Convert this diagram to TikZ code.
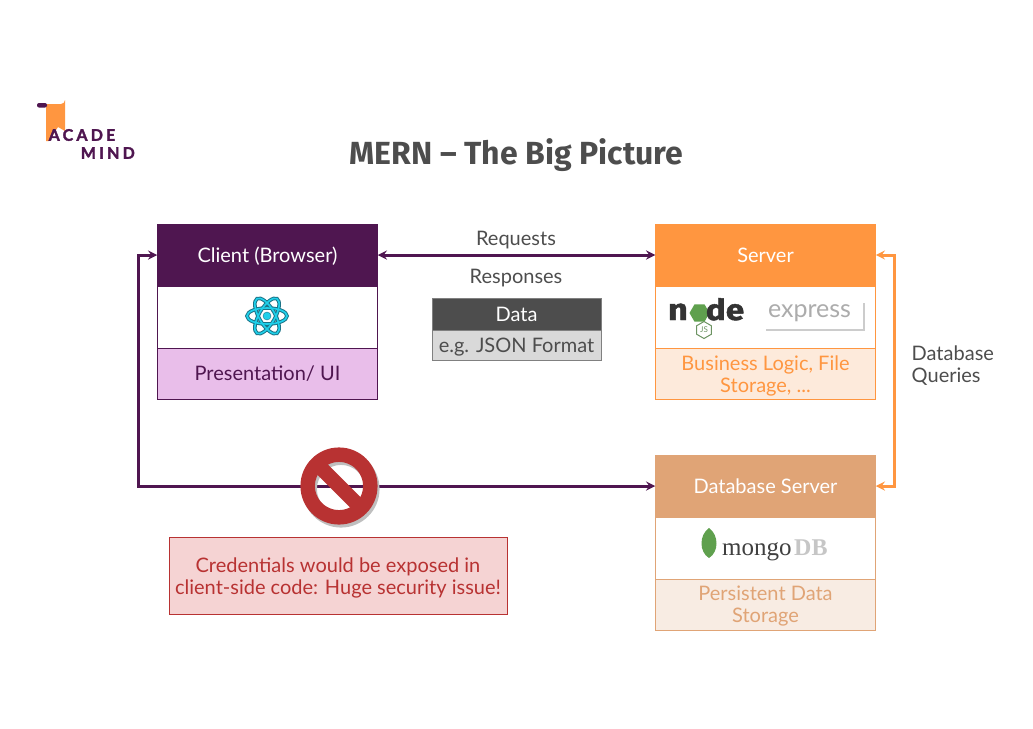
\documentclass[tikz,border=0pt]{standalone}
\usepackage{fontspec}
\usepackage{tikz}
\usetikzlibrary{positioning,shapes.geometric}
\setmainfont{Lato}
\newfontfamily\titlefont{Fira Sans}
\newfontfamily\logofont[LetterSpace=20,BoldFeatures={FakeBold=2}]{Lato}
\newfontfamily\nodefont[BoldFeatures={FakeBold=1.5,FakeStretch=1.15}]{Fira Sans}
\newfontfamily\mongofont{Liberation Serif}

\definecolor{mernpurple}{HTML}{4F1650}
\definecolor{mernlilac}{HTML}{E9BEEA}
\definecolor{mernorange}{HTML}{FF9640}
\definecolor{mernpeach}{HTML}{FDEADB}
\definecolor{merntan}{HTML}{E0A476}
\definecolor{mernsand}{HTML}{F8ECE3}
\definecolor{merngray}{HTML}{4D4D4D}
\definecolor{mernred}{HTML}{B83232}
\definecolor{mernrose}{HTML}{F5D3D3}
\definecolor{reactcyan}{HTML}{1FD0EA}
\definecolor{reactteal}{HTML}{1C7488}
\definecolor{nodegreen}{HTML}{5FA04E}

\tikzset{
    box/.style={outer sep=0pt,inner sep=0pt,minimum width=220.5pt,line width=.8pt,align=center,font=\fontsize{20}{22}\selectfont},
    oneline/.style={text height=18pt,text depth=4pt},
    headbox/.style={box,oneline,minimum height=62pt,fill=#1,draw=#1,text=white},
    midbox/.style={box,minimum height=62pt,fill=white,draw=#1},
    footbox/.style={box,minimum height=51pt},
    plain/.style={text=merngray,font=\fontsize{20}{22}\selectfont},
    twolines/.style={align=center,inner sep=0pt,yshift=-2pt,font=\fontsize{20}{22}\selectfont},
    link/.style={>=stealth,line width=3pt},
    logotext/.style={text=mernpurple,font=\logofont\bfseries\fontsize{16}{16}\selectfont,inner sep=0pt}
}

\begin{document}
\begin{tikzpicture}[x=1pt,y=-1pt]
    \useasboundingbox (0,0) rectangle (1033,728);

    % logo
    \fill [mernorange] (46,104)--(61,104) arc (90:0:4)--(65,131)--(58,127)--(49,141)--(46,141)--cycle;
    \fill [mernpurple,rounded corners=2pt] (37,103) rectangle (47,107.5);
    \node (logotop) [logotext,anchor=west] at (48.5,135) {ACADE};
    \node (logobottom) [logotext,anchor=east] at (135,153) {MIND};

    \node (title) [text=merngray,font=\titlefont\bfseries\fontsize{32}{32}\selectfont] at (516.5,155) {MERN – The Big Picture};

    % client
    \node (client) [headbox=mernpurple] at (267.5,255) {Client (Browser)};
    \node (clientmid) [midbox=mernpurple,below=0pt of client] {};
    \node (clientfoot) [footbox,oneline,fill=mernlilac,draw=mernpurple,text=mernpurple,below=0pt of clientmid] {Presentation/ UI};

    % server
    \node (server) [headbox=mernorange] at (765.5,255) {Server};
    \node (servermid) [midbox=mernorange,below=0pt of server] {};
    \node (serverfoot) [footbox,fill=mernpeach,draw=mernorange,below=0pt of servermid] {};
    \node (serverfoottext) [twolines,text=mernorange] at (serverfoot) {Business Logic, File\\Storage, ...};

    % database
    \node (database) [headbox=merntan] at (765.5,486) {Database Server};
    \node (databasemid) [midbox=merntan,below=0pt of database] {};
    \node (databasefoot) [footbox,fill=mernsand,draw=merntan,below=0pt of databasemid] {};
    \node (databasefoottext) [twolines,text=merntan] at (databasefoot) {Persistent Data\\Storage};

    % data box
    \node (data) [box,oneline,minimum width=169pt,minimum height=32pt,fill=merngray,draw=gray,text=white] at (516.5,314) {Data};
    \node (dataformat) [box,oneline,minimum width=169pt,minimum height=30pt,fill=gray!30,draw=gray,text=merngray,below=0pt of data] {e.g. JSON Format};

    \node (requests) [plain,oneline] at (516,238) {Requests};
    \node (responses) [plain,oneline] at (516,276) {Responses};
    \node (queries) [plain,align=left,anchor=west,inner sep=0pt] at (911.5,366) {Database\\Queries};

    % connectors
    \coordinate (leftturn) at (138,486);
    \coordinate (rightturn) at (894,486);
    \draw [<->,link,mernpurple] (client.east)--(server.west);
    \draw [<->,link,mernpurple] (client.west)-|(leftturn)--(database.west);
    \draw [<->,link,mernorange] (server.east)-|(rightturn)--(database.east);

    % forbidden sign
    \coordinate (sign) at (339,486);
    \draw [line width=14.5pt,black!25] ([shift={(2,3)}]sign) circle (31.3);
    \draw [line width=14.5pt,mernred] (sign) circle (31.3);
    \draw [line width=14.5pt,mernred] ([shift={(-23,-23)}]sign)--([shift={(23,23)}]sign);

    \node (warning) [box,minimum width=338pt,minimum height=77pt,fill=mernrose,draw=mernred] at (338,575.5) {};
    \node (warningtext) [twolines,text=mernred] at (warning) {Credentials would be exposed in\\client-side code: Huge security issue!};

    % react logo
    \coordinate (react) at (267,316);
    \foreach \angle in {0,60,120} {
        \draw [line width=3.6pt,reactteal,rotate around={\angle:(react)}] (react) ellipse (20 and 8);
    }
    \foreach \angle in {0,60,120} {
        \draw [line width=1.6pt,reactcyan,rotate around={\angle:(react)}] (react) ellipse (20 and 8);
    }
    \fill [reactcyan,draw=reactteal] (react) circle (4);

    % node logo
    \node (noden) [text=black!80,font=\nodefont\bfseries\fontsize{30}{30}\selectfont,inner sep=0pt,anchor=base] at (678,320) {n};
    \node (nodeo) [regular polygon,regular polygon sides=6,fill=nodegreen,minimum size=20pt,inner sep=0pt] at (699.5,313) {};
    \node (nodede) [text=black!80,font=\nodefont\bfseries\fontsize{29}{29}\selectfont,inner sep=0pt,anchor=base] at (725,320) {de};
    \node (nodejs) [regular polygon,regular polygon sides=6,shape border rotate=30,draw=nodegreen!60!gray,line width=1pt,minimum size=17pt,inner sep=0pt,text=nodegreen!60!gray,font=\fontsize{8}{8}\selectfont] at (704,330) {JS};

    % express logo
    \fill [gray!40] (766,303) rectangle (865,331);
    \fill [white] (763,299) rectangle (862.5,328.5);
    \node (express) [text=gray!65,font=\fontsize{25}{25}\selectfont,inner sep=0pt] at (809.5,313) {express};

    % mongo logo
    \fill [nodegreen] (709,528) .. controls (719,535) and (719,552) .. (709,558) .. controls (699,552) and (699,535) .. (709,528);
    \node (mongo) [text=black!75,font=\mongofont\fontsize{25}{25}\selectfont,inner sep=0pt,anchor=base west] at (722,555) {mongo};
    \node (mongodb) [text=gray!45,font=\mongofont\bfseries\fontsize{24}{24}\selectfont,inner sep=0pt,anchor=base west] at (794,555) {DB};
\end{tikzpicture}
\end{document}
